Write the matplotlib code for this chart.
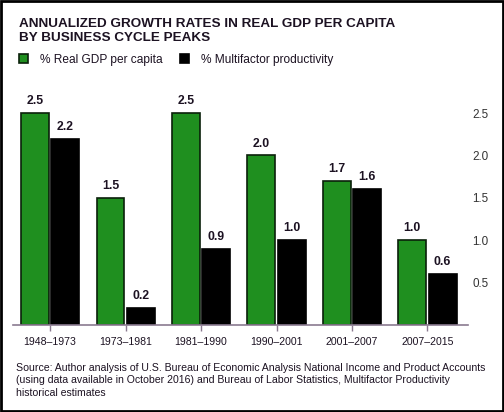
import matplotlib.pyplot as plt
import numpy as np
from matplotlib.patches import Rectangle

plt.rcParams['font.family'] = ['Liberation Sans', 'DejaVu Sans']

periods = ["1948–1973", "1973–1981", "1981–1990", "1990–2001", "2001–2007", "2007–2015"]
gdp_per_capita = [2.5, 1.5, 2.5, 2.0, 1.7, 1.0]
multifactor = [2.2, 0.2, 0.9, 1.0, 1.6, 0.6]

green = '#1f8f1f'
text_col = '#1c1222'

fig = plt.figure(figsize=(5.04, 4.12), dpi=100)
ax = fig.add_axes([0.026, 0.211, 0.903, 0.566])

x = np.arange(len(periods))
w = 0.37
b1 = ax.bar(x - 0.2, gdp_per_capita, w, color=green, edgecolor='#0a200a', linewidth=1.2)
b2 = ax.bar(x + 0.2, multifactor, w, color='black', edgecolor='black', linewidth=1.2)

for xi, v in zip(x - 0.2, gdp_per_capita):
    ax.text(xi, v + 0.07, f"{v:.1f}", ha='center', va='bottom', fontsize=8.8,
            fontweight='bold', color=text_col)
for xi, v in zip(x + 0.2, multifactor):
    ax.text(xi, v + 0.07, f"{v:.1f}", ha='center', va='bottom', fontsize=8.8,
            fontweight='bold', color=text_col)

ax.set_xlim(-0.49, 5.54)
ax.set_ylim(0, 2.75)
ax.set_xticks(x)
ax.set_xticklabels(periods, fontsize=7.6, color=text_col)
ax.tick_params(axis='x', length=4, width=1, color='#8a7a90', pad=4.5)
ax.yaxis.tick_right()
ax.set_yticks([0.5, 1.0, 1.5, 2.0, 2.5])
ax.set_yticklabels(["0.5", "1.0", "1.5", "2.0", "2.5"], fontsize=8.4, color='#333333')
ax.tick_params(axis='y', length=0, pad=3)
for s in ['top', 'left', 'right']:
    ax.spines[s].set_visible(False)
ax.spines['bottom'].set_color('#8a7a90')
ax.spines['bottom'].set_linewidth(1.2)

fig.text(0.038, 0.957, "ANNUALIZED GROWTH RATES IN REAL GDP PER CAPITA\nBY BUSINESS CYCLE PEAKS",
         ha='left', va='top', fontsize=9.7, fontweight='bold', color=text_col, linespacing=1.25)

fig.legend([b1, b2], ["% Real GDP per capita", "% Multifactor productivity"],
           loc='center left', bbox_to_anchor=(0.016, 0.855), ncol=2, frameon=False,
           fontsize=8.6, handlelength=0.75, handleheight=0.75, columnspacing=1.4,
           handletextpad=1.05, labelcolor=text_col)

fig.text(0.032, 0.12,
         "Source: Author analysis of U.S. Bureau of Economic Analysis National Income and Product Accounts\n"
         "(using data available in October 2016) and Bureau of Labor Statistics, Multifactor Productivity\n"
         "historical estimates",
         ha='left', va='top', fontsize=7.55, color=text_col, linespacing=1.32)

fig.patches.append(Rectangle((0.002, 0.002), 0.996, 0.996, transform=fig.transFigure,
                             fill=False, edgecolor='black', linewidth=2))

fig.savefig('out.png', dpi=100)
